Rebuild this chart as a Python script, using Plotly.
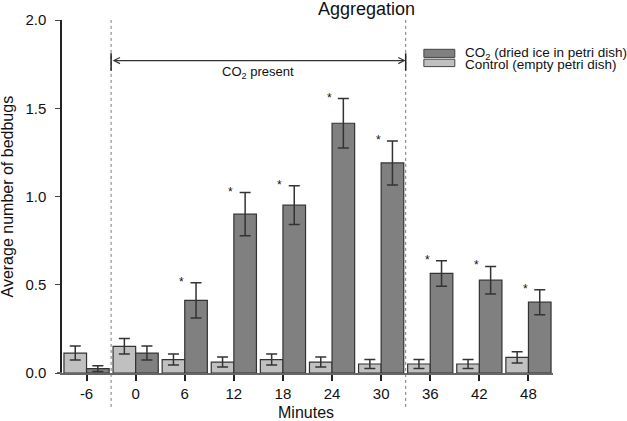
import plotly.graph_objects as go

# ---- data ----
minutes = ["-6", "0", "6", "12", "18", "24", "30", "36", "42", "48"]
co2_mean = [0.025, 0.113, 0.412, 0.900, 0.951, 1.415, 1.190, 0.564, 0.526, 0.401]
co2_se = [0.016, 0.040, 0.100, 0.122, 0.110, 0.140, 0.125, 0.072, 0.078, 0.071]
ctrl_mean = [0.113, 0.151, 0.076, 0.062, 0.076, 0.062, 0.051, 0.051, 0.051, 0.089]
ctrl_se = [0.040, 0.044, 0.031, 0.028, 0.031, 0.028, 0.025, 0.025, 0.025, 0.032]
significant = [False, False, True, True, True, True, True, True, True, True]

co2_name = "CO<sub>2</sub> (dried ice in petri dish)"
ctrl_name = "Control (empty petri dish)"
co2_start_idx, co2_end_idx = 0.5, 6.5  # CO2 present between minute 0 and 30 groups
arrow_y = 1.77

FONT = "Liberation Sans, Arial, sans-serif"
CO2_COLOR = "#808080"
CTRL_COLOR = "#c0c0c0"
EDGE = "#333333"

fig = go.Figure()
fig.add_trace(go.Bar(
    x=minutes, y=ctrl_mean, name=ctrl_name,
    marker=dict(color=CTRL_COLOR, line=dict(color=EDGE, width=1.2)),
    error_y=dict(type="data", array=ctrl_se, color="#333333", thickness=1.5, width=5.5),
))
fig.add_trace(go.Bar(
    x=minutes, y=co2_mean, name=co2_name,
    marker=dict(color=CO2_COLOR, line=dict(color=EDGE, width=1.2)),
    error_y=dict(type="data", array=co2_se, color="#333333", thickness=1.5, width=5.5),
))

annotations = []
# significance asterisks
for i, (m, s, sig) in enumerate(zip(co2_mean, co2_se, significant)):
    if sig:
        annotations.append(dict(
            x=i, y=m + s, xref="x", yref="y", text="*", showarrow=False,
            xanchor="center", yanchor="middle", xshift=-3, yshift=1,
            font=dict(family=FONT, size=12, color="#111")))

# double-headed arrow for CO2 period
annotations.append(dict(
    x=co2_end_idx, y=arrow_y, ax=co2_start_idx, ay=arrow_y,
    xref="x", yref="y", axref="x", ayref="y", text="", showarrow=True,
    arrowside="end+start", arrowhead=5, arrowsize=1, arrowwidth=1.2,
    arrowcolor="#333", standoff=0, startstandoff=0))
annotations.append(dict(
    x=(co2_start_idx + co2_end_idx) / 2, y=1.705, xref="x", yref="y",
    text="CO<sub>2</sub> present", showarrow=False, xanchor="center", yanchor="middle",
    font=dict(family=FONT, size=13, color="#111")))

# title and axis titles
annotations.append(dict(
    x=0.621, y=1.031, xref="paper", yref="paper", text="Aggregation", showarrow=False,
    xanchor="center", yanchor="middle", font=dict(family=FONT, size=18, color="#111")))
annotations.append(dict(
    x=0.496, y=-0.112, xref="paper", yref="paper", text="Minutes", showarrow=False,
    xanchor="center", yanchor="middle", font=dict(family=FONT, size=16, color="#111")))
annotations.append(dict(
    x=-0.110, y=0.5, xref="paper", yref="paper", text="Average number of bedbugs",
    showarrow=False, textangle=-90, xanchor="center", yanchor="middle",
    font=dict(family=FONT, size=16, color="#111")))

# manual legend (tight spacing as in reference)
legend_items = [(co2_name, CO2_COLOR, 0.917, 0.894, 0.906),
                (ctrl_name, CTRL_COLOR, 0.889, 0.868, 0.874)]
shapes = []
for name, col, y1, y0, ty in legend_items:
    shapes.append(dict(type="rect", xref="paper", yref="paper",
                       x0=0.737, x1=0.800, y0=y0, y1=y1,
                       fillcolor=col, line=dict(color="#444", width=1)))
    annotations.append(dict(x=0.817, y=ty, xref="paper", yref="paper", text=name,
                            showarrow=False, xanchor="left", yanchor="middle",
                            font=dict(family=FONT, size=13.5, color="#111")))

# dotted vertical separators
for xv in (co2_start_idx, co2_end_idx):
    shapes.append(dict(type="line", xref="x", yref="paper", x0=xv, x1=xv,
                       y0=-0.096, y1=1.0, line=dict(color="#777", width=1, dash="dot")))
    shapes.append(dict(type="line", xref="x", yref="y", x0=xv, x1=xv,
                       y0=1.713, y1=1.811, line=dict(color="#222", width=1.5)))
# x-axis baseline extension left of the y axis
shapes.append(dict(type="line", xref="paper", yref="y", x0=-0.0102, x1=0, y0=0, y1=0,
                   line=dict(color="#666", width=2)))

fig.update_layout(
    width=627, height=421,
    margin=dict(l=62, r=74, t=20, b=48),
    paper_bgcolor="white", plot_bgcolor="white",
    barmode="group", bargap=0.08, bargroupgap=0,
    showlegend=False,
    font=dict(family=FONT, size=15, color="#111"),
    annotations=annotations, shapes=shapes,
)
fig.update_xaxes(
    type="category", range=[-0.5, 9.5], showgrid=False, zeroline=False,
    showline=True, linecolor="#666", linewidth=2,
    ticks="outside", ticklen=6, tickwidth=1.5, tickcolor="#222",
    tickfont=dict(family=FONT, size=15, color="#111"),
)
fig.update_yaxes(
    range=[0, 2.0], dtick=0.5, tickformat=".1f", showgrid=False, zeroline=False,
    showline=True, linecolor="#222", linewidth=1.5,
    ticks="outside", ticklen=5, tickwidth=1.2, tickcolor="#444",
    ticklabelstandoff=6,
    tickfont=dict(family=FONT, size=15, color="#111"),
)

fig.write_html("out.html", config={"displayModeBar": False},
               post_script="document.body.style.margin='0';document.body.style.overflow='hidden';")
